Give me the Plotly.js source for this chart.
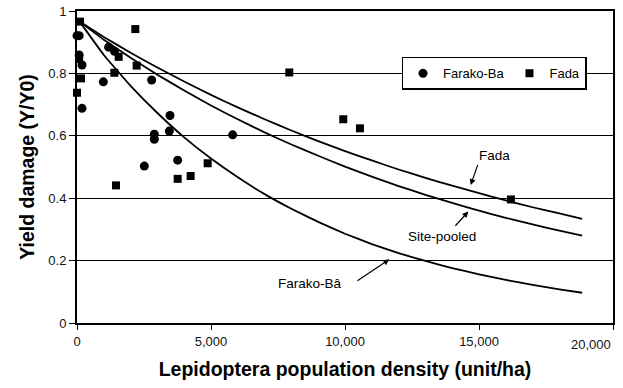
<!DOCTYPE html>
<html>
<head>
<meta charset="utf-8">
<script src="https://cdn.plot.ly/plotly-3.0.1.min.js"></script>
<style>html,body{margin:0;padding:0;background:#fff;}#chart{width:623px;height:388px;}</style>
</head>
<body>
<div id="chart"></div>
<script>
// Observed points
const farakoX = [0, 80, 80, 187, 187, 982, 1180, 1400, 2512, 2786, 2885, 2885, 3445, 3470, 3756, 5808];
const farakoY = [0.921, 0.921, 0.859, 0.827, 0.688, 0.773, 0.884, 0.871, 0.503, 0.779, 0.605, 0.589, 0.615, 0.665, 0.522, 0.603];
const fadaX = [112, 80, 150, 0, 1393, 1555, 2176, 2226, 1455, 3756, 4241, 4875, 7921, 9935, 10558, 16192];
const fadaY = [0.966, 0.846, 0.784, 0.738, 0.802, 0.853, 0.942, 0.825, 0.441, 0.462, 0.471, 0.512, 0.803, 0.653, 0.624, 0.396];

// Fitted curves
const curveX = [100, 1000, 2000, 3000, 4000, 5000, 6000, 7000, 8000, 9000, 10000, 11000, 12000, 13000, 14000, 15000, 16000, 17000, 18000, 18850];
const curveFada = [0.966, 0.917, 0.866, 0.819, 0.774, 0.731, 0.691, 0.653, 0.617, 0.583, 0.551, 0.521, 0.492, 0.465, 0.440, 0.416, 0.393, 0.371, 0.351, 0.334];
const curvePooled = [0.966, 0.908, 0.850, 0.796, 0.745, 0.697, 0.653, 0.611, 0.572, 0.536, 0.501, 0.469, 0.439, 0.411, 0.385, 0.360, 0.337, 0.316, 0.296, 0.280];
const curveFarako = [0.966, 0.859, 0.760, 0.673, 0.595, 0.527, 0.467, 0.413, 0.366, 0.324, 0.286, 0.253, 0.224, 0.199, 0.176, 0.156, 0.138, 0.122, 0.108, 0.097];

const xTickVals = [0, 5000, 10000, 15000, 20000];
const xTickText = ['0', '5,000', '10,000', '15,000', ''];
const xLastTickLabel = '20,000';
const yTickVals = [0, 0.2, 0.4, 0.6, 0.8, 1];
const yTickText = ['0', '0.2', '0.4', '0.6', '0.8', '1'];

const FONT = '"Liberation Sans", Arial, sans-serif';
const lineStyle = {color: '#000', width: 1.8, shape: 'spline', smoothing: 0.3};

const traces = [
  {x: curveX, y: curveFada, mode: 'lines', line: lineStyle, showlegend: false, hoverinfo: 'skip'},
  {x: curveX, y: curvePooled, mode: 'lines', line: lineStyle, showlegend: false, hoverinfo: 'skip'},
  {x: curveX, y: curveFarako, mode: 'lines', line: lineStyle, showlegend: false, hoverinfo: 'skip'},
  {x: farakoX, y: farakoY, mode: 'markers', name: 'Farako-Ba', cliponaxis: false,
   marker: {symbol: 'circle', size: 9, color: '#000'}},
  {x: fadaX, y: fadaY, mode: 'markers', name: 'Fada', cliponaxis: false,
   marker: {symbol: 'square', size: 8, color: '#000'}}
];

const annFont = {family: FONT, size: 13.5, color: '#000'};
const layout = {
  width: 623, height: 388,
  margin: {l: 77, r: 10, t: 11, b: 65},
  paper_bgcolor: '#fff', plot_bgcolor: '#fff',
  font: {family: FONT, size: 13, color: '#000'},
  showlegend: true,
  legend: {
    orientation: 'h', x: 0.778, y: 0.8, xanchor: 'center', yanchor: 'middle',
    bgcolor: '#fff', bordercolor: '#000', borderwidth: 1.5,
    font: {family: FONT, size: 13, color: '#000'},
    itemwidth: 30, tracegroupgap: 0
  },
  xaxis: {
    range: [0, 20000], tickvals: xTickVals, ticktext: xTickText,
    showgrid: false, zeroline: false,
    showline: true, linecolor: '#000', linewidth: 2, mirror: true,
    ticks: 'outside', ticklen: 5, tickwidth: 1, tickcolor: '#000',
    tickfont: {family: FONT, size: 13, color: '#111'},
    title: {text: 'Lepidoptera population density (unit/ha)', standoff: 15,
            font: {family: FONT, size: 19.5, weight: 700, color: '#000'}}
  },
  yaxis: {
    range: [0, 1], tickvals: yTickVals, ticktext: yTickText,
    showgrid: true, gridcolor: '#000', gridwidth: 1, zeroline: false,
    showline: true, linecolor: '#000', linewidth: 2, mirror: true,
    ticks: 'outside', ticklen: 6, tickwidth: 1, tickcolor: '#000',
    tickfont: {family: FONT, size: 13, color: '#111'},
    title: {text: 'Yield damage (Y/Y0)', standoff: 8,
            font: {family: FONT, size: 19.5, weight: 700, color: '#000'}}
  },
  annotations: [
    {x: 20000, xref: 'x', y: 0, yref: 'paper', yshift: -21, xanchor: 'right', yanchor: 'middle',
     text: xLastTickLabel, showarrow: false, font: {family: FONT, size: 13, color: '#111'}},
    {x: 15596, y: 0.536, text: 'Fada', showarrow: false, font: annFont},
    {x: 13618, y: 0.277, text: 'Site-pooled', showarrow: false, font: annFont},
    {x: 8693, y: 0.127, text: 'Farako-Bâ', showarrow: false, font: annFont},
    {x: 14689, y: 0.442, ax: 7.6, ay: -21.7, text: '', showarrow: true, arrowhead: 2, arrowsize: 1, arrowwidth: 1.2, arrowcolor: '#000', standoff: 0, startstandoff: 0},
    {x: 14600, y: 0.357, ax: -14.3, ay: 15.6, text: '', showarrow: true, arrowhead: 2, arrowsize: 1, arrowwidth: 1.2, arrowcolor: '#000', standoff: 0, startstandoff: 0},
    {x: 11652, y: 0.204, ax: -33.3, ay: 22.4, text: '', showarrow: true, arrowhead: 2, arrowsize: 1, arrowwidth: 1.2, arrowcolor: '#000', standoff: 0, startstandoff: 0}
  ]
};

Plotly.newPlot('chart', traces, layout, {displayModeBar: false, staticPlot: true});
</script>
</body>
</html>
